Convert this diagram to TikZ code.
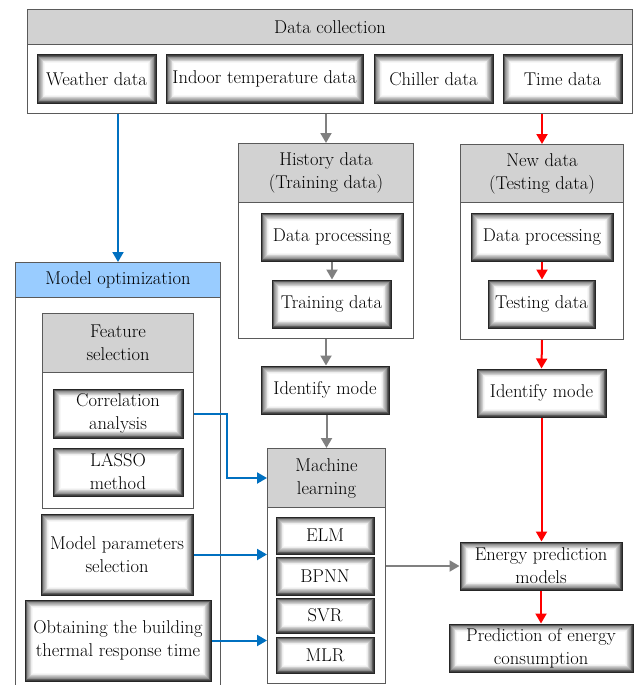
\documentclass[tikz,border=0pt]{standalone}
\usepackage{fontspec}
\usetikzlibrary{arrows.meta,calc}
\newcommand\dfont{\rmfamily\addfontfeatures{FakeBold=0.35}\fontsize{18.5}{23}\selectfont}
\definecolor{hdrgray}{RGB}{210,210,210}
\definecolor{hdrblue}{RGB}{153,204,255}
\definecolor{bordergray}{RGB}{90,90,90}
\definecolor{arrgray}{RGB}{128,128,128}
\definecolor{arrblue}{RGB}{0,112,192}
\definecolor{arrred}{RGB}{255,0,0}
\tikzset{
  hdr/.style={draw=bordergray, line width=1pt, fill=hdrgray, font=\dfont, align=center, inner sep=0pt, anchor=north west},
  bodybox/.style={draw=bordergray, line width=1pt, fill=white, inner sep=0pt, anchor=north west},
  ibox/.style={draw=black!85, line width=1pt, fill=black!75, font=\dfont, align=center, inner sep=0pt,
    path picture={
      \foreach \k/\c in {1/64,2/54,3/44,4/35,5/27,6/19,7/12,8/7,9/3}{
        \fill[black!\c] ([xshift=\k*0.8pt, yshift=-\k*0.8pt]path picture bounding box.north west) rectangle ([xshift=-\k*0.8pt, yshift=\k*0.8pt]path picture bounding box.south east);
      }
      \fill[white] ([xshift=8pt,yshift=-8pt]path picture bounding box.north west) rectangle ([xshift=-8pt,yshift=8pt]path picture bounding box.south east);
    }},
  arr/.style={line width=2pt, -{Triangle[width=11pt,length=10pt]}},
  garr/.style={arr, draw=arrgray},
  rarr/.style={arr, draw=arrred},
  barr/.style={arr, draw=arrblue},
}
\begin{document}
\begin{tikzpicture}[x=1pt,y=-1pt]
\useasboundingbox (0,0) rectangle (636,685);

% ---- Data collection ----
\node[bodybox, minimum width=605, minimum height=69] (dcb) at (27,44) {};
\node[hdr, minimum width=605, minimum height=35] (dch) at (27,9) {Data collection};
\node[ibox, minimum width=119, minimum height=48] (wd) at (96.5,79) {Weather data};
\node[ibox, minimum width=197, minimum height=48] (itd) at (264.5,79) {Indoor temperature data};
\node[ibox, minimum width=119, minimum height=48] (cd) at (433.5,79) {Chiller data};
\node[ibox, minimum width=119, minimum height=48] (td) at (562.5,79) {Time data};

% ---- History data ----
\node[bodybox, minimum width=175, minimum height=136] (hisB) at (238,202) {};
\node[hdr, minimum width=175, minimum height=59] (hisH) at (238,143) {History data\\(Training data)};
\node[ibox, minimum width=142, minimum height=48] (dpH) at (332,237) {Data processing};
\node[ibox, minimum width=119, minimum height=48] (trd) at (331.5,304) {Training data};

% ---- New data ----
\node[bodybox, minimum width=163, minimum height=137] (newB) at (460,202) {};
\node[hdr, minimum width=163, minimum height=58] (newH) at (460,144) {New data\\(Testing data)};
\node[ibox, minimum width=142, minimum height=48] (dpN) at (542,237) {Data processing};
\node[ibox, minimum width=107, minimum height=48] (ted) at (541.5,304) {Testing data};

% ---- Identify mode ----
\node[ibox, minimum width=128, minimum height=48] (idL) at (325,390) {Identify mode};
\node[ibox, minimum width=129, minimum height=48] (idR) at (541.5,393) {Identify mode};

% ---- Machine learning ----
\node[bodybox, minimum width=118, minimum height=176] (mlB) at (267,507) {};
\node[hdr, minimum width=118, minimum height=59] (mlH) at (267,448) {Machine\\learning};
\node[ibox, minimum width=98, minimum height=37] (elm) at (325,535.5) {ELM};
\node[ibox, minimum width=98, minimum height=38] (bpnn) at (325,576) {BPNN};
\node[ibox, minimum width=98, minimum height=35] (svr) at (325,615.5) {SVR};
\node[ibox, minimum width=98, minimum height=36] (mlr) at (325,655) {MLR};

% ---- Energy prediction ----
\node[ibox, minimum width=162, minimum height=48] (ep) at (541,566) {Energy prediction\\models};
\node[ibox, minimum width=184, minimum height=48] (pec) at (541,648) {Prediction of energy\\consumption};

% ---- Model optimization ----
\node[inner sep=0pt, minimum width=205, minimum height=395, anchor=north west] (moB) at (15,297) {};
\draw[bordergray, line width=1pt] (moB.north west) -- (moB.south west);
\draw[bordergray, line width=1pt] (moB.north east) -- (moB.south east);
\node[hdr, fill=hdrblue, minimum width=205, minimum height=35] (moH) at (15,262) {Model optimization};

\node[bodybox, minimum width=151, minimum height=136] (fsB) at (42,372) {};
\node[hdr, minimum width=151, minimum height=59] (fsH) at (42,313) {Feature\\selection};
\node[ibox, minimum width=130, minimum height=49] (corr) at (118,413.5) {Correlation\\analysis};
\node[ibox, minimum width=130, minimum height=48] (lasso) at (118,472) {LASSO\\method};
\node[ibox, minimum width=152, minimum height=81] (mps) at (117,554.5) {Model parameters\\selection};
\node[ibox, minimum width=186, minimum height=81] (obt) at (118,640.5) {Obtaining the building\\thermal response time};

% ---- Connectors ----
\draw[barr] (moH.north |- dcb.south) -- (moH.north);
\draw[garr] (hisH.north |- dcb.south) -- (hisH.north);
\draw[rarr] (newH.north |- dcb.south) -- (newH.north);
\draw[garr] (dpH.south) -- (trd.north -| dpH.south);
\draw[rarr] (dpN.south) -- (ted.north -| dpN.south);
\draw[garr] (hisB.south) -- (idL.north -| hisB.south);
\draw[garr] (mlH.north |- idL.south) -- (mlH.north);
\draw[rarr] (newB.south) -- (idR.north);
\draw[rarr] (idR.south) -- (ep.north -| idR.south);
\draw[rarr] (ep.south) -- (pec.north);
\draw[garr] (mlB.east |- ep.west) -- (ep.west);
\draw[barr] (fsB.east |- corr.east) -- ++(33,0) |- (mlH.west);
\draw[barr] (mps.east) -- (mlB.west |- mps.east);
\draw[barr] (obt.east) -- (mlB.west |- obt.east);
\end{tikzpicture}
\end{document}
